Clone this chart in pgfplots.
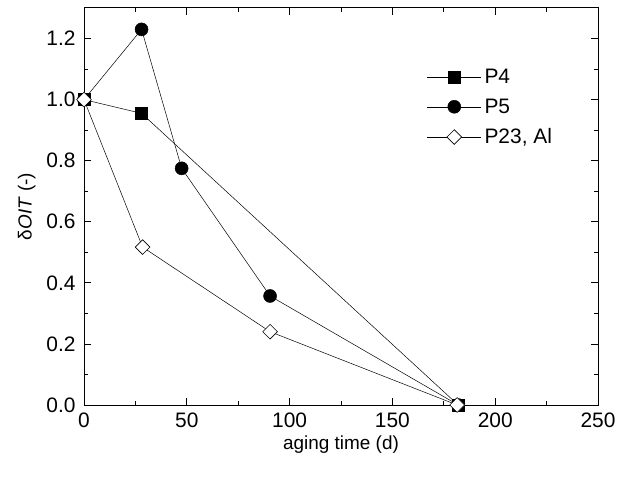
\documentclass[border=0pt]{standalone}
\usepackage{fontspec}
\setmainfont{Liberation Sans}
\usepackage{pgfplots}
\pgfplotsset{compat=1.18}
\begin{document}
\begin{tikzpicture}
\begin{axis}[
  name=ax,
  scale only axis,
  width=514bp, height=397bp,
  xmin=0, xmax=250, ymin=0, ymax=1.3,
  xtick={0,50,100,150,200,250},
  ytick={0,0.2,0.4,0.6,0.8,1.0,1.2},
  minor xtick={25,75,125,175,225},
  minor ytick={0.1,0.3,0.5,0.7,0.9,1.1},
  tick align=inside,
  major tick length=7bp, minor tick length=4bp,
  tick style={black, line width=0.8pt},
  axis line style={line width=1pt},
  yticklabel style={xshift=-5bp, /pgf/number format/fixed, /pgf/number format/fixed zerofill, /pgf/number format/precision=1},
  /pgf/number format/assume math mode=true,
  ticklabel style={font=\fontsize{21}{24}\selectfont},
  xticklabel style={yshift=-4bp},
  xlabel={aging time (d)},
  ylabel={δ\textit{OIT} (-)},
  label style={font=\fontsize{19}{22}\selectfont},
  xlabel style={yshift=-2bp},
  ylabel style={yshift=4bp},
  legend style={draw=none, fill=none, at={(rel axis cs:0.667,0.852)}, anchor=north west,
    font=\fontsize{21}{24}\selectfont, row sep=10bp, inner sep=0pt,
    nodes={inner xsep=3bp}},
  legend cell align=left,
  legend image code/.code={
    \draw[#1, mark repeat=2, mark phase=2] plot coordinates {(0bp,0bp) (27bp,0bp) (54bp,0bp)};
  },
]
\addplot[black, line width=0.5pt, mark=square*, mark size=6bp, mark options={solid, fill=black}]
  coordinates {(0,1.0) (28,0.955) (182,0.0)};
\addlegendentry{P4}
\addplot[black, line width=0.5pt, mark=*, mark size=6.5bp, mark options={solid, fill=black}]
  coordinates {(0,1.0) (28,1.23) (47.5,0.775) (90.5,0.357) (182,0.0)};
\addlegendentry{P5}
\addplot[black, line width=0.5pt, mark=square*, mark size=5.2bp, mark options={solid, fill=white, line width=0.6pt, rotate=45}]
  coordinates {(0,1.0) (28.5,0.517) (90.5,0.24) (181.5,0.0)};
\addlegendentry{P23, Al}
\end{axis}
\path (ax.north west) ++(0,8bp);
\path (ax.south west) ++(-84bp,-73bp);
\path (ax.south east) ++(23bp,0);
\end{tikzpicture}
\end{document}
